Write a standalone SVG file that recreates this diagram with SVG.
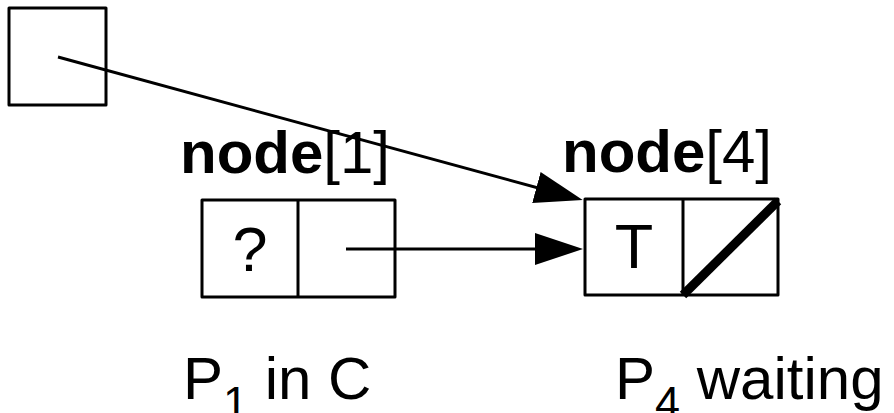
<svg xmlns="http://www.w3.org/2000/svg" width="894" height="413" viewBox="0 0 894 413">
  <style>
    .box { fill: #fff; stroke: #000; stroke-width: 3; stroke-linejoin: round; }
    .wire { fill: none; stroke: #000; stroke-width: 3; }
    .txt { font-family: "Liberation Sans", Arial, sans-serif; font-size: 60px; fill: #000; }
    .cell { font-size: 63px; }
    .b { font-weight: bold; }
    .sub { font-size: 45px; }
  </style>
  <defs>
    <marker id="head" viewBox="0 0 48 32" markerWidth="48" markerHeight="32" markerUnits="userSpaceOnUse" refX="40" refY="16" orient="auto">
      <path d="M0,0 L48,16 L0,32 z" fill="#000"/>
    </marker>
  </defs>

  <!-- pointer variable -->
  <g id="ptr">
    <rect class="box" x="9" y="8" width="97" height="97"/>
  </g>

  <!-- node[1] -->
  <g id="node1">
    <text class="txt" x="180" y="173"><tspan class="b">node</tspan>[1]</text>
    <rect class="box" x="202" y="200" width="193" height="97"/>
    <line class="wire" x1="298" y1="200" x2="298" y2="297"/>
    <text class="txt cell" x="250" y="271" text-anchor="middle">?</text>
    <text class="txt" x="183" y="399">P<tspan class="sub" dy="19">1</tspan><tspan dy="-19"> in C</tspan></text>
  </g>

  <!-- node[4] -->
  <g id="node4">
    <text class="txt" x="562" y="172"><tspan class="b">node</tspan>[4]</text>
    <rect class="box" x="585" y="199" width="193" height="96"/>
    <line class="wire" x1="683" y1="199" x2="683" y2="295"/>
    <line x1="683" y1="295" x2="778" y2="201" stroke="#000" stroke-width="9"/>
    <text class="txt cell" x="634" y="268" text-anchor="middle">T</text>
    <text class="txt" x="615" y="399">P<tspan class="sub" dy="19">4</tspan><tspan dy="-19"> waiting</tspan></text>
  </g>

  <!-- connectors -->
  <g id="connectors">
    <line class="wire" x1="58" y1="57" x2="575" y2="198" marker-end="url(#head)"/>
    <line class="wire" x1="346" y1="249" x2="575" y2="249" marker-end="url(#head)"/>
  </g>
</svg>
